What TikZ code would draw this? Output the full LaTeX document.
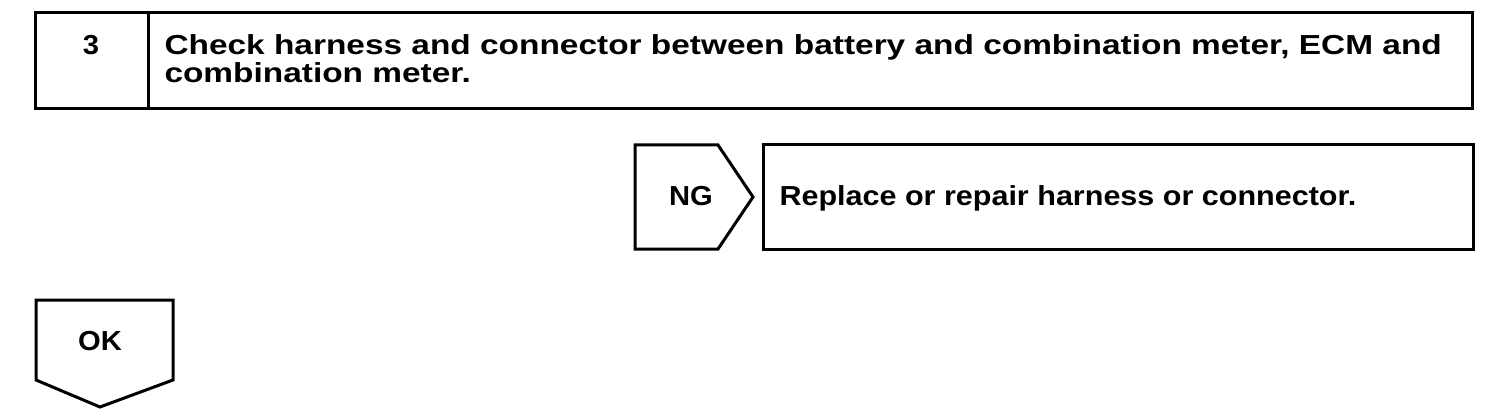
\documentclass[tikz,border=0pt]{standalone}
\usepackage{fontspec}
\setmainfont{Liberation Sans}
\newfontfamily\wideA[FakeStretch=1.215]{Liberation Sans}
\newfontfamily\wideB[FakeStretch=1.11]{Liberation Sans}
\newfontfamily\wideC[FakeStretch=1.06]{Liberation Sans}
\begin{document}
\begin{tikzpicture}[x=1pt,y=-1pt,line width=3pt,
  lbl/.style={inner sep=0pt,font=\wideC\fontsize{27.5}{28}\selectfont\bfseries},
  box/.style={draw,line join=miter}]
\useasboundingbox (0,0) rectangle (1488,414);
% step 3 box
\draw[box] (35,13) rectangle (1472,109);
\draw (148,13) -- (148,109);
\node[lbl,anchor=base] (num) at (91,55) {3};
\node[lbl,font=\wideA\fontsize{27.5}{28}\selectfont\bfseries,anchor=base west,align=left] (q) at (163,83) {Check harness and connector between battery and combination meter, ECM and\\combination meter.};
% NG
\draw[box] (635,145) -- (718,145) -- (753,197) -- (718,249) -- (635,249) -- cycle;
\node[lbl,anchor=base] (ng) at (691,206) {NG};
\draw[box] (763,145) rectangle (1473,249);
\node[lbl,font=\wideB\fontsize{27.5}{28}\selectfont\bfseries,anchor=base west] (act) at (778,206) {Replace or repair harness or connector.};
% OK
\draw[box] (36,300) -- (173,300) -- (173,380) -- (100,407) -- (36,380) -- cycle;
\node[lbl,anchor=base] (ok) at (100,350) {OK};
\end{tikzpicture}
\end{document}
